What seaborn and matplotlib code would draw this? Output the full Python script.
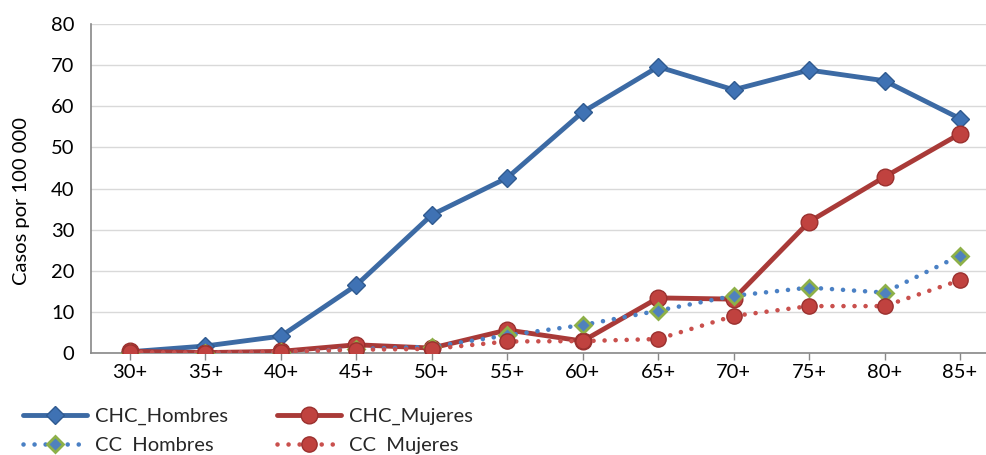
import matplotlib
matplotlib.use("Agg")
import matplotlib.pyplot as plt
import seaborn as sns
import pandas as pd

categories = ["30+", "35+", "40+", "45+", "50+", "55+", "60+", "65+", "70+", "75+", "80+", "85+"]
chc_hombres = [0.3, 1.7, 4.1, 16.5, 33.6, 42.6, 58.6, 69.6, 64.0, 68.8, 66.2, 57.0]
chc_mujeres = [0.4, 0.1, 0.4, 2.0, 1.2, 5.6, 2.9, 13.4, 13.1, 31.9, 42.8, 53.3]
cc_hombres = [0.0, 0.0, 0.2, 1.0, 1.5, 4.3, 6.8, 10.3, 13.9, 15.9, 14.7, 23.7]
cc_mujeres = [0.2, 0.1, 0.3, 0.8, 1.0, 2.8, 2.9, 3.4, 9.0, 11.4, 11.4, 17.7]

sns.set_theme(style="white")
plt.rcParams["font.family"] = ["Lato", "DejaVu Sans"]

fig = plt.figure(figsize=(9.87, 4.55), dpi=100)
ax = fig.add_axes([91 / 987, 1 - 353 / 455, 1 - 91 / 987, (353 - 24) / 455])

df = pd.DataFrame({"cat": categories, "CHC_H": chc_hombres, "CHC_M": chc_mujeres,
                   "CC_H": cc_hombres, "CC_M": cc_mujeres})

dot = (0, (0.01, 2.4))
sns.lineplot(data=df, x="cat", y="CHC_H", ax=ax, color="#3C6AA4", linewidth=3.5,
             marker="D", markersize=9.5, markerfacecolor="#3F72B4", markeredgecolor="#2F5A90",
             markeredgewidth=1, label="CHC_Hombres", zorder=3, sort=False)
sns.lineplot(data=df, x="cat", y="CHC_M", ax=ax, color="#A93A38", linewidth=3.5,
             marker="o", markersize=12, markerfacecolor="#C0423F", markeredgecolor="#9A302E",
             markeredgewidth=1, label="CHC_Mujeres", zorder=4, sort=False)
sns.lineplot(data=df, x="cat", y="CC_H", ax=ax, color="#4A80C4", linewidth=3.3,
             marker="D", markersize=8.5, markerfacecolor="#4F81BD", markeredgecolor="#8DB048",
             markeredgewidth=2, label="CC  Hombres", zorder=5, sort=False)
sns.lineplot(data=df, x="cat", y="CC_M", ax=ax, color="#C9504D", linewidth=3.3,
             marker="o", markersize=11, markerfacecolor="#C0423F", markeredgecolor="#9A302E",
             markeredgewidth=1, label="CC  Mujeres", zorder=6, sort=False)

for i, ln in enumerate(ax.get_lines()):
    if i >= 2:
        ln.set_linestyle(dot)
        ln.set_dash_capstyle("round")

ax.set_xlim(-0.517, 11.358)
ax.set_ylim(0, 80)
ax.set_yticks(range(0, 81, 10))
ax.yaxis.grid(True, color="#D9D9D9", linewidth=1)
ax.xaxis.grid(False)
ax.set_xlabel("")
ax.set_ylabel("Casos por 100 000", fontsize=14.5, color="#000000")
ax.yaxis.set_label_coords(-0.068, 0.462)
ax.tick_params(axis="both", labelsize=14.5, colors="#000000")
ax.tick_params(axis="x", bottom=True, length=5, width=1, color="#888888", pad=3)
ax.tick_params(axis="y", left=False, pad=6)
for s in ["top", "right"]:
    ax.spines[s].set_visible(False)
for s in ["left", "bottom"]:
    ax.spines[s].set_color("#888888")
    ax.spines[s].set_linewidth(1.2)

handles, labels = ax.get_legend_handles_labels()
ax.get_legend().remove()
order = [0, 2, 1, 3]
fig.legend([handles[i] for i in order], [labels[i] for i in order], loc="upper left",
           bbox_to_anchor=(0.015, 1 - 400 / 455),
           ncol=2, frameon=False, fontsize=14.5, handlelength=3.2, columnspacing=2.4,
           labelspacing=0.55, handletextpad=0.4, borderaxespad=0)

fig.savefig("out.png", dpi=100)
